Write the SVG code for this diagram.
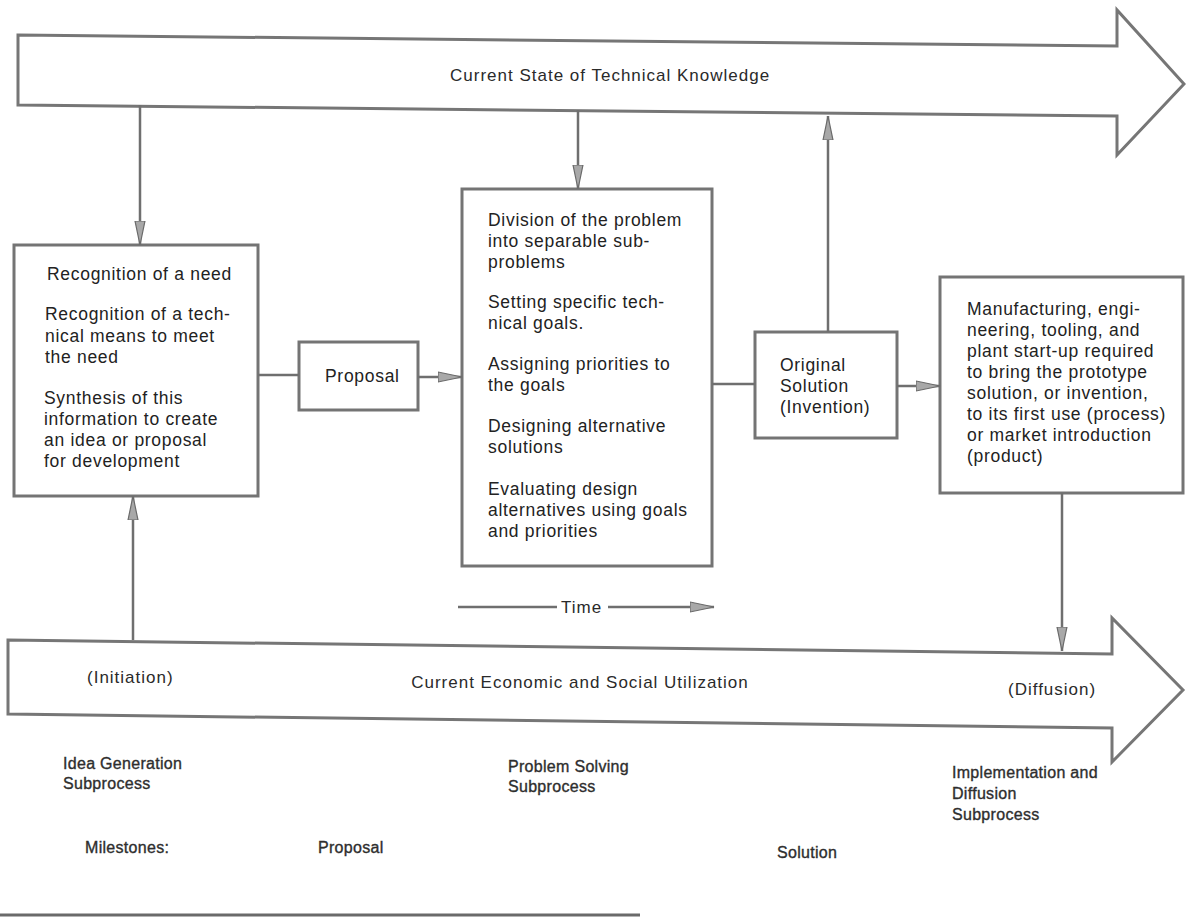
<svg xmlns="http://www.w3.org/2000/svg" width="1186" height="919" viewBox="0 0 1186 919">
  <style>
    .bg { fill: #ffffff; }
    .band { fill: #ffffff; stroke: #767676; stroke-width: 3; stroke-linejoin: miter; }
    .box { fill: #ffffff; stroke: #747474; stroke-width: 3; }
    .link { fill: none; stroke: #6f6f6f; stroke-width: 2.5; }
    .t { font-family: "Liberation Sans", Arial, sans-serif; font-size: 17.5px; letter-spacing: 0.7px; fill: #222222; }
    .band-t { font-family: "Liberation Sans", Arial, sans-serif; font-size: 17px; letter-spacing: 1px; fill: #2a2a2a; }
    .lbl { font-family: "Liberation Sans", Arial, sans-serif; font-size: 16px; letter-spacing: 0.3px; fill: #2e2e2e; stroke: #2e2e2e; stroke-width: 0.35px; }
    .rule { stroke: #6a6a6a; stroke-width: 3; }
  </style>
  <defs>
    <marker id="head" markerUnits="userSpaceOnUse" markerWidth="26" markerHeight="14" refX="24" refY="7" orient="auto">
      <path d="M0,2 L24,7 L0,12 Z" fill="#a8a8a8" stroke="#6a6a6a" stroke-width="1.2"/>
    </marker>
  </defs>

  <rect class="bg" x="0" y="0" width="1186" height="919"/>

  <!-- Knowledge band across the top -->
  <g id="knowledge-band">
    <polygon class="band" points="18,35 1117,46 1117,10 1184,84 1117,155 1117,116 18,105"/>
    <text class="band-t" x="450" y="81">Current State of Technical Knowledge</text>
  </g>

  <!-- Utilization band across the bottom -->
  <g id="utilization-band">
    <polygon class="band" points="8,640 1112,654 1112,618 1183,690 1112,762 1112,728 8,714"/>
    <text class="band-t" x="87" y="683">(Initiation)</text>
    <text class="band-t" x="580" y="688" text-anchor="middle">Current Economic and Social Utilization</text>
    <text class="band-t" x="1008" y="695">(Diffusion)</text>
  </g>

  <!-- Idea generation box -->
  <g id="idea-generation">
    <rect class="box" x="14" y="245" width="244" height="251"/>
    <text class="t" x="47" y="280">Recognition of a need</text>
    <text class="t" x="45" y="320">Recognition of a tech-</text>
    <text class="t" x="45" y="342">nical means to meet</text>
    <text class="t" x="45" y="363">the need</text>
    <text class="t" x="44" y="404">Synthesis of this</text>
    <text class="t" x="44" y="425">information to create</text>
    <text class="t" x="44" y="446">an idea or proposal</text>
    <text class="t" x="44" y="467">for development</text>
  </g>

  <!-- Proposal milestone box -->
  <g id="proposal">
    <rect class="box" x="299" y="342" width="119" height="68"/>
    <text class="t" x="325" y="382">Proposal</text>
  </g>

  <!-- Problem solving box -->
  <g id="problem-solving">
    <rect class="box" x="462" y="189" width="250" height="377"/>
    <text class="t" x="488" y="226">Division of the problem</text>
    <text class="t" x="488" y="247">into separable sub-</text>
    <text class="t" x="488" y="268">problems</text>
    <text class="t" x="488" y="308">Setting specific tech-</text>
    <text class="t" x="488" y="329">nical goals.</text>
    <text class="t" x="488" y="370">Assigning priorities to</text>
    <text class="t" x="488" y="391">the goals</text>
    <text class="t" x="488" y="432">Designing alternative</text>
    <text class="t" x="488" y="453">solutions</text>
    <text class="t" x="488" y="495">Evaluating design</text>
    <text class="t" x="488" y="516">alternatives using goals</text>
    <text class="t" x="488" y="537">and priorities</text>
  </g>

  <!-- Original solution box -->
  <g id="original-solution">
    <rect class="box" x="755" y="332" width="142" height="106"/>
    <text class="t" x="780" y="371">Original</text>
    <text class="t" x="780" y="392">Solution</text>
    <text class="t" x="780" y="413">(Invention)</text>
  </g>

  <!-- Implementation box -->
  <g id="implementation">
    <rect class="box" x="940" y="277" width="243" height="216"/>
    <text class="t" x="967" y="315">Manufacturing, engi-</text>
    <text class="t" x="967" y="336">neering, tooling, and</text>
    <text class="t" x="967" y="357">plant start-up required</text>
    <text class="t" x="967" y="378">to bring the prototype</text>
    <text class="t" x="967" y="399">solution, or invention,</text>
    <text class="t" x="967" y="420">to its first use (process)</text>
    <text class="t" x="967" y="441">or market introduction</text>
    <text class="t" x="967" y="462">(product)</text>
  </g>

  <!-- Flow connectors -->
  <g id="connectors">
    <line class="link" x1="140" y1="105" x2="140" y2="245" marker-end="url(#head)"/>
    <line class="link" x1="578" y1="110" x2="578" y2="189" marker-end="url(#head)"/>
    <line class="link" x1="828" y1="332" x2="828" y2="116" marker-end="url(#head)"/>
    <line class="link" x1="258" y1="375" x2="299" y2="375"/>
    <line class="link" x1="418" y1="377" x2="462" y2="377" marker-end="url(#head)"/>
    <line class="link" x1="712" y1="384" x2="755" y2="384"/>
    <line class="link" x1="897" y1="386" x2="940" y2="386" marker-end="url(#head)"/>
    <line class="link" x1="1062" y1="493" x2="1062" y2="651" marker-end="url(#head)"/>
    <line class="link" x1="133" y1="640" x2="133" y2="496" marker-end="url(#head)"/>
  </g>

  <!-- Time axis -->
  <g id="time-axis">
    <line class="link" x1="458" y1="607" x2="557" y2="607"/>
    <text class="band-t" x="561" y="613">Time</text>
    <line class="link" x1="608" y1="607" x2="714" y2="607" marker-end="url(#head)"/>
  </g>

  <!-- Subprocess captions and milestones -->
  <g id="captions">
    <text class="lbl" x="63" y="769">Idea Generation</text>
    <text class="lbl" x="63" y="789">Subprocess</text>
    <text class="lbl" x="508" y="772">Problem Solving</text>
    <text class="lbl" x="508" y="792">Subprocess</text>
    <text class="lbl" x="952" y="778">Implementation and</text>
    <text class="lbl" x="952" y="799">Diffusion</text>
    <text class="lbl" x="952" y="820">Subprocess</text>
    <text class="lbl" x="85" y="853">Milestones:</text>
    <text class="lbl" x="318" y="853">Proposal</text>
    <text class="lbl" x="777" y="858">Solution</text>
  </g>

  <line class="rule" x1="0" y1="915" x2="640" y2="915"/>
</svg>
